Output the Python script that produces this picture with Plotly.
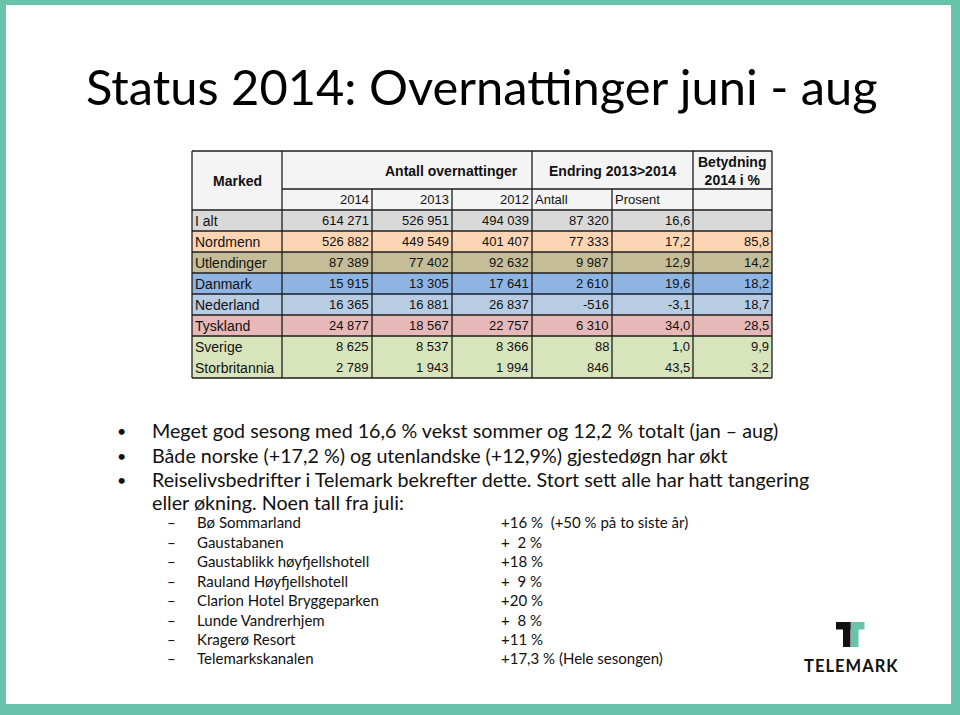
import plotly.graph_objects as go

# ---------------- data ----------------
markets = ["I alt", "Nordmenn", "Utlendinger", "Danmark", "Nederland", "Tyskland", "Sverige", "Storbritannia"]
v2014 = [614271, 526882, 87389, 15915, 16365, 24877, 8625, 2789]
v2013 = [526951, 449549, 77402, 13305, 16881, 18567, 8537, 1943]
v2012 = [494039, 401407, 92632, 17641, 26837, 22757, 8366, 1994]
endring_antall = [87320, 77333, 9987, 2610, -516, 6310, 88, 846]
endring_prosent = [16.6, 17.2, 12.9, 19.6, -3.1, 34.0, 1.0, 43.5]
betydning = [None, 85.8, 14.2, 18.2, 18.7, 28.5, 9.9, 3.2]
sub_headers = ["2014", "2013", "2012", "Antall", "Prosent", ""]

title = "Status 2014: Overnattinger juni - aug"
bullets = [
    "Meget god sesong med 16,6 % vekst sommer og 12,2 % totalt (jan – aug)",
    "Både norske (+17,2 %) og utenlandske (+12,9%) gjestedøgn har økt",
    "Reiselivsbedrifter i Telemark bekrefter dette. Stort sett alle har hatt tangering",
]
bullet_cont = "eller økning. Noen tall fra juli:"
sub_names = ["Bø Sommarland", "Gaustabanen", "Gaustablikk høyfjellshotell", "Rauland Høyfjellshotell",
             "Clarion Hotel Bryggeparken", "Lunde Vandrerhjem", "Kragerø Resort", "Telemarkskanalen"]
sub_values = ["+16 %\u00a0\u00a0(+50 % på to siste år)", "+\u00a0\u00a02 %", "+18 %", "+\u00a0\u00a09 %",
              "+20 %", "+\u00a0\u00a08 %", "+11 %", "+17,3 % (Hele sesongen)"]

# ---------------- styling / layout ----------------
TEAL = "#67C4AA"
row_colors = ["#D9D9D9", "#FCD5B4", "#C4BD97", "#8DB4E2", "#B8CCE4", "#E6B8B7", "#D8E4BC", "#D8E4BC"]
HEAD_BG = "#F4F4F4"
LINE = "#1E1E1E"
col_edges = [192, 282, 372, 452, 532, 612, 693, 772]
head_top, head_mid, head_bot = 151, 189, 210
row_h = 21

def fmt_int(v):
    s = f"{abs(v):,}".replace(",", "\u00a0")
    return ("-" if v < 0 else "") + s

def fmt_dec(v):
    return f"{v:.1f}".replace(".", ",")

shapes = []
annots = []

# white slide inside teal frame
shapes.append(dict(type="rect", xref="x", yref="y", x0=6, x1=951, y0=5, y1=704,
                   fillcolor="white", line=dict(width=0), layer="below"))

# header backgrounds
shapes.append(dict(type="rect", xref="x", yref="y", x0=col_edges[0], x1=col_edges[-1], y0=head_top, y1=head_bot,
                   fillcolor=HEAD_BG, line=dict(width=0), layer="below"))

# row backgrounds
row_tops = [head_bot + i * row_h for i in range(len(markets))]
for i, m in enumerate(markets):
    shapes.append(dict(type="rect", xref="x", yref="y", x0=col_edges[0], x1=col_edges[-1],
                       y0=row_tops[i], y1=row_tops[i] + row_h,
                       fillcolor=row_colors[i], line=dict(width=0), layer="below"))
table_bot = row_tops[-1] + row_h

def hline(x0, x1, y, w=1.3):
    shapes.append(dict(type="line", xref="x", yref="y", x0=x0, x1=x1, y0=y, y1=y, line=dict(color=LINE, width=w)))

def vline(x, y0, y1, w=1.3):
    shapes.append(dict(type="line", xref="x", yref="y", x0=x, x1=x, y0=y0, y1=y1, line=dict(color=LINE, width=w)))

# outer border
hline(col_edges[0], col_edges[-1], head_top)
hline(col_edges[0], col_edges[-1], table_bot)
vline(col_edges[0], head_top, table_bot)
vline(col_edges[-1], head_top, table_bot)
# header lines
vline(col_edges[1], head_top, table_bot)
vline(col_edges[4], head_top, table_bot)
vline(col_edges[6], head_top, table_bot)
hline(col_edges[1], col_edges[-1], head_mid)
hline(col_edges[0], col_edges[-1], head_bot)
for c in [2, 3, 5]:
    vline(col_edges[c], head_mid, table_bot)
# row lines (Sverige / Storbritannia share a block)
for i in range(1, len(markets) - 1):
    hline(col_edges[0], col_edges[-1], row_tops[i])

TFONT = "Liberation Sans, Arial, sans-serif"

def txt(x, y, s, size, anchor="left", color="#111", bold=False, family=TFONT, yanchor="middle"):
    annots.append(dict(x=x, y=y, xref="x", yref="y", text=(f"<b>{s}</b>" if bold else s), showarrow=False,
                       xanchor=anchor, yanchor=yanchor, font=dict(size=size, color=color, family=family)))

# header texts
txt((col_edges[0] + col_edges[1]) / 2, (head_top + head_bot) / 2, "Marked", 14, "center", bold=True)
txt(451, 171, "Antall overnattinger", 14, "center", bold=True)
txt(612, 171, "Endring 2013>2014", 14, "center", bold=True)
txt(732, 171, "Betydning<br>2014 i %", 14, "center", bold=True)
sub_y = (head_mid + head_bot) / 2
for j, h in enumerate(sub_headers):
    if h in ("Antall", "Prosent"):
        txt(col_edges[j + 1] + 1, sub_y, h, 13, "left")
    elif h:
        txt(col_edges[j + 2] - 1, sub_y, h, 13, "right")

# data cells
for i, m in enumerate(markets):
    yc = row_tops[i] + row_h / 2
    txt(col_edges[0] + 1, yc, m, 14, "left")
    cells = [fmt_int(v2014[i]), fmt_int(v2013[i]), fmt_int(v2012[i]), fmt_int(endring_antall[i]),
             fmt_dec(endring_prosent[i]), "" if betydning[i] is None else fmt_dec(betydning[i])]
    for j, s in enumerate(cells):
        if s:
            txt(col_edges[j + 2] - 1, yc, s, 13, "right")

# title
BFONT = "Lato, Open Sans, sans-serif"
txt(84, 86, title, 48.8, "left", color="#000", family=BFONT)

# bullets
b_y = [430.5, 455.5, 479.5]
for y, s in zip(b_y, bullets):
    txt(115, y, "•", 16, "left", color="#111", family=BFONT)
    txt(150, y, s, 19.7, "left", color="#111", family=BFONT)
txt(150, 502, bullet_cont, 19.7, "left", color="#111", family=BFONT)

s_y = [522, 541.5, 561, 580.5, 600, 619.5, 639, 658]
for y, n, v in zip(s_y, sub_names, sub_values):
    txt(165, y, "–", 15, "left", color="#111", family=BFONT)
    txt(195, y, n, 15, "left", color="#111", family=BFONT)
    txt(499, y, v, 15, "left", color="#111", family=BFONT)

# logo
logo = [("#111111", 836, 850.5, 622, 629.5), ("#111111", 843, 850.5, 622, 647),
        (TEAL, 851, 864.5, 622, 629.5), (TEAL, 851, 858.5, 622, 647)]
for col, x0, x1, y0, y1 in logo:
    shapes.append(dict(type="rect", xref="x", yref="y", x0=x0, x1=x1, y0=y0, y1=y1,
                       fillcolor=col, line=dict(width=0)))
txt(851, 666, "<b>T E L E M A R K</b>".replace(" ", "\u200a"), 16.5, "center", color="#111", family=BFONT)

fig = go.Figure()
fig.update_layout(
    width=960, height=715, margin=dict(l=0, r=0, t=0, b=0),
    paper_bgcolor=TEAL, plot_bgcolor=TEAL,
    xaxis=dict(range=[0, 960], visible=False, fixedrange=True),
    yaxis=dict(range=[715, 0], visible=False, fixedrange=True),
    shapes=shapes, annotations=annots, showlegend=False,
)
fig.write_html("out.html", config={"displayModeBar": False},
               post_script="document.body.style.margin='0';document.body.style.overflow='hidden';")
